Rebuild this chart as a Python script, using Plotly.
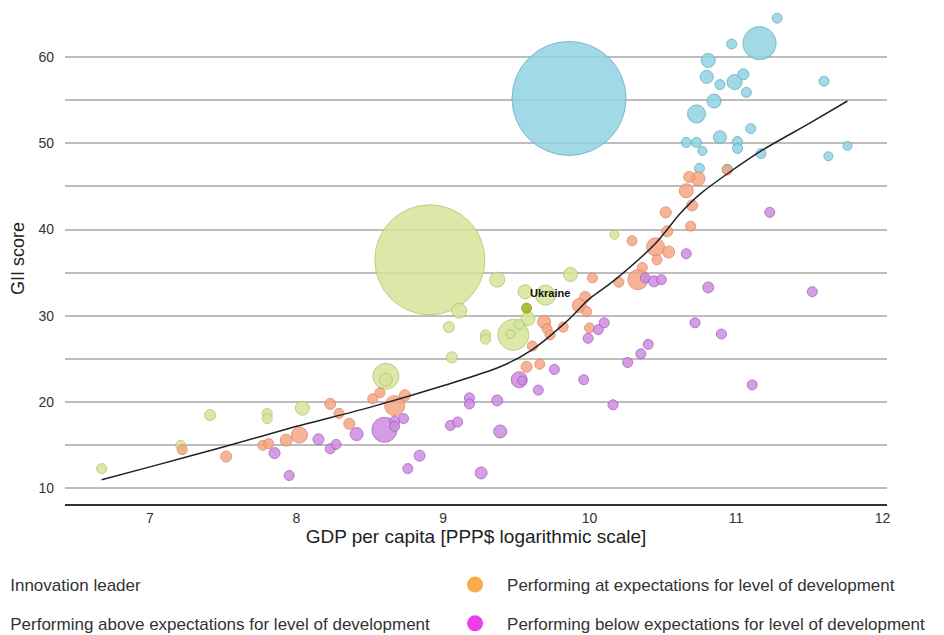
import plotly.graph_objects as go

# ---------------- data ----------------
leader_x = [11.28, 11.16, 10.97, 10.81, 10.80, 10.89, 10.99, 11.05, 11.07, 10.85, 10.73, 11.60, 11.10,
            10.66, 10.73, 10.89, 11.01, 11.01, 10.77, 11.17, 11.76, 11.63, 10.75, 10.94, 9.86]
leader_y = [64.5, 61.6, 61.5, 59.6, 57.7, 56.8, 57.1, 58.0, 55.9, 54.9, 53.4, 57.2, 51.7,
            50.1, 50.1, 50.7, 50.2, 49.4, 49.1, 48.8, 49.7, 48.5, 47.1, 47.0, 55.2]
leader_pop = [10, 33, 10, 14, 13, 10, 15, 11, 10, 14, 18, 10, 10,
              10, 10, 13, 10, 10, 9, 10, 9, 9, 10, 10, 114]

above_x = [8.91, 9.37, 9.87, 9.56, 9.70, 9.11, 9.58, 9.04, 9.29, 9.29, 9.48, 9.46, 9.52,
           9.06, 10.17, 8.61, 8.61, 8.04, 7.41, 7.80, 7.80, 6.67, 7.21]
above_y = [36.5, 34.2, 34.8, 32.8, 32.4, 30.6, 29.7, 28.7, 27.8, 27.3, 27.8, 27.9, 29.0,
           25.2, 39.4, 23.0, 22.6, 19.3, 18.5, 18.7, 18.1, 12.3, 15.0]
above_pop = [110, 15, 14, 14, 20, 15, 14, 11, 10, 10, 31, 9, 10,
             11, 9, 26, 13, 14, 11, 10, 10, 10, 10]

ukraine_x = [9.57]
ukraine_y = [30.9]
ukraine_pop = [10]

at_x = [7.22, 7.52, 7.77, 7.81, 7.93, 8.02, 8.23, 8.29, 8.36, 8.52, 8.57, 8.67, 8.74,
        9.57, 9.66, 9.61, 9.69, 9.71, 9.73, 9.82, 10.00, 10.02, 9.97, 9.93, 9.98,
        10.74, 10.68, 10.66, 10.70, 10.52, 10.69, 10.53, 10.29, 10.45, 10.54, 10.46,
        10.36, 10.33, 10.20, 10.94]
at_y = [14.5, 13.7, 15.0, 15.2, 15.6, 16.2, 19.8, 18.7, 17.5, 20.4, 21.1, 19.6, 20.8,
        24.1, 24.4, 26.5, 29.3, 28.5, 27.8, 28.7, 28.6, 34.4, 32.2, 31.2, 30.5,
        45.9, 46.1, 44.5, 42.8, 42.0, 40.4, 39.8, 38.7, 38.0, 37.4, 36.5,
        35.6, 34.2, 33.9, 46.9]
at_pop = [10, 11, 10, 10, 12, 16, 11, 10, 11, 10, 10, 20, 11,
          11, 10, 10, 13, 10, 10, 10, 10, 10, 11, 14, 10,
          14, 11, 14, 11, 11, 10, 11, 10, 18, 12, 10,
          10, 20, 10, 10]

below_x = [7.85, 7.95, 8.15, 8.23, 8.27, 8.41, 8.60, 8.67, 8.67, 8.73, 8.76, 8.84, 9.05,
           9.10, 9.18, 9.18, 9.37, 9.39, 9.26, 9.52, 9.54, 9.65, 9.76, 9.96, 10.16,
           10.26, 10.35, 10.40, 9.99, 10.06, 10.10, 11.23, 10.66, 10.38, 10.44, 10.49,
           10.81, 11.52, 10.72, 10.90, 11.11]
below_y = [14.1, 11.5, 15.7, 14.6, 15.1, 16.3, 16.8, 17.8, 17.2, 18.1, 12.3, 13.8, 17.3,
           17.7, 20.5, 19.8, 20.2, 16.6, 11.8, 22.6, 22.5, 21.4, 23.8, 22.6, 19.7,
           24.6, 25.6, 26.7, 27.4, 28.4, 29.2, 42.0, 37.2, 34.4, 34.0, 34.2,
           33.3, 32.8, 29.2, 27.9, 22.0]
below_pop = [11, 10, 11, 10, 10, 13, 25, 10, 10, 10, 10, 11, 10,
             10, 10, 10, 11, 13, 12, 16, 9, 10, 10, 10, 10,
             10, 10, 10, 10, 10, 10, 10, 10, 10, 11, 10,
             11, 10, 10, 10, 10]

trend_x = [6.67, 7.0, 7.5, 8.0, 8.5, 9.0, 9.39, 9.61, 9.84, 10.0, 10.16, 10.45, 10.62, 10.76,
           11.16, 11.5, 11.76]
trend_y = [11.0, 12.5, 14.8, 17.2, 19.4, 21.9, 24.1, 26.1, 29.3, 32.0, 34.0, 38.4, 41.9, 44.2,
           49.0, 52.3, 54.9]

x_ticks = [7, 8, 9, 10, 11, 12]
y_ticks = [10, 15, 20, 25, 30, 35, 40, 45, 50, 55, 60, 65]
y_ticktext = ["10", "", "20", "", "30", "", "40", "", "50", "", "60", ""]

legend_names = ["Innovation leader",
                "Performing at expectations for level of development",
                "Performing above expectations for level of development",
                "Performing below expectations for level of development"]

FONT = "Liberation Sans, Arial, sans-serif"

fig = go.Figure()


def bubbles(x, y, s, fill, edge, name):
    fig.add_trace(go.Scatter(
        x=x, y=y, mode="markers", name=name, showlegend=False,
        marker=dict(size=s, sizemode="diameter", sizeref=1, color=fill, opacity=0.85,
                    line=dict(color=edge, width=1)),
        hoverinfo="x+y+name"))


bubbles(leader_x, leader_y, leader_pop, "#92D3E2", "#62AFC2", legend_names[0])
bubbles(above_x, above_y, above_pop, "#D5E59A", "#B3C66A", legend_names[2])
bubbles(at_x, at_y, at_pop, "#F6A684", "#E0876A", legend_names[1])
bubbles(below_x, below_y, below_pop, "#CE8CE0", "#A95FC4", legend_names[3])
bubbles(ukraine_x, ukraine_y, ukraine_pop, "#9DB21C", "#8AA010", "Ukraine")

fig.add_trace(go.Scatter(x=trend_x, y=trend_y, mode="lines", showlegend=False,
                         line=dict(color="#222222", width=1.5, shape="spline", smoothing=0.8),
                         hoverinfo="skip"))

# legend entries (one legend per entry so they can sit in a 2x2 grid)
leg_colors = ["#92D3E2", "#F9AA4B", "#C9DD7C", "#EC3DEB"]
leg_ids = ["legend", "legend2", "legend3", "legend4"]
for name, col, lid in zip(legend_names, leg_colors, leg_ids):
    fig.add_trace(go.Scatter(x=[None], y=[None], mode="markers", name=name, legend=lid,
                             marker=dict(size=16, color=col)))

fig.add_annotation(x=ukraine_x[0], y=ukraine_y[0], text="<b>Ukraine</b>", showarrow=False,
                   xshift=23, yshift=15, font=dict(family=FONT, size=11, color="#111"))

leg_font = dict(family=FONT, size=17, color="#333333")
xl, xr = -0.1445, 0.4599
y1, y2 = -0.165, -0.244
common = dict(font=leg_font, bgcolor="rgba(0,0,0,0)", xanchor="left", yanchor="middle",
              itemwidth=54, itemclick=False, itemdoubleclick=False)

fig.update_layout(
    width=936, height=627,
    margin=dict(l=57, r=57, t=5, b=131, autoexpand=False),
    paper_bgcolor="white", plot_bgcolor="white",
    font=dict(family=FONT, color="#333333"),
    legend=dict(x=xl, y=y1, **common),
    legend2=dict(x=xr, y=y1, **common),
    legend3=dict(x=xl, y=y2, **common),
    legend4=dict(x=xr, y=y2, **common),
    xaxis=dict(range=[6.42, 12.03], tickvals=x_ticks, showgrid=False, zeroline=False,
               showline=True, linecolor="#333333", linewidth=1.5, ticks="",
               tickfont=dict(family=FONT, size=14, color="#333333"),
               title=dict(text="GDP per capita [PPP$ logarithmic scale]",
                          font=dict(family=FONT, size=19, color="#222222"), standoff=3)),
    yaxis=dict(range=[8.2, 65.1], tickvals=y_ticks, ticktext=y_ticktext,
               showgrid=True, gridcolor="#BDBDBD", gridwidth=1.5, zeroline=False,
               showline=False, ticks="", ticklabelstandoff=10,
               tickfont=dict(family=FONT, size=14, color="#333333"),
               title=dict(text="GII score", font=dict(family=FONT, size=18, color="#222222"),
                          standoff=9)),
)

fig.write_html("out.html")
